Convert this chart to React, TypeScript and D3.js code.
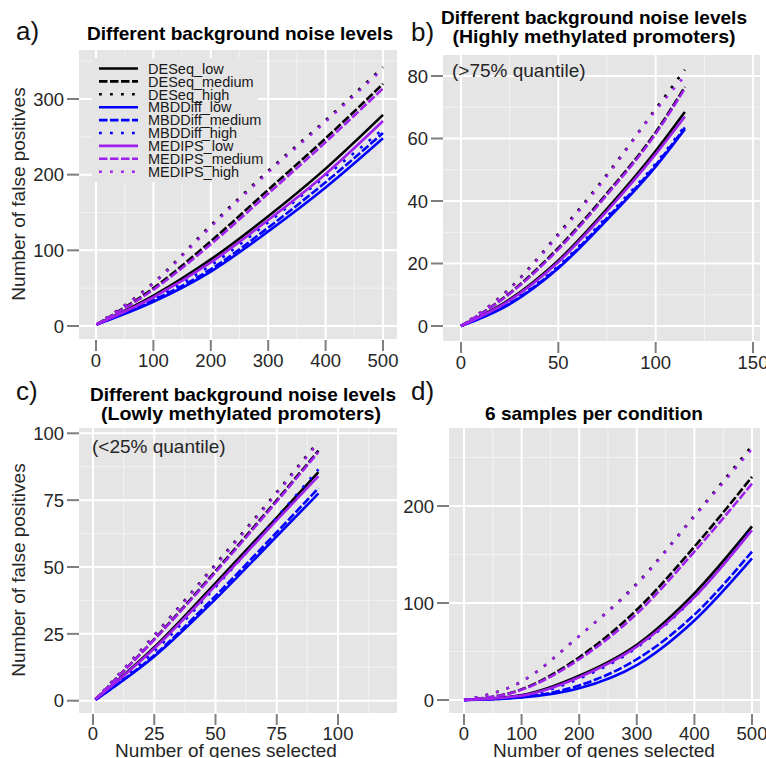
import React from "react";
import * as d3 from "d3";

// series order: [low, medium, high] for each method
const methods = ["DESeq", "MBDDiff", "MEDIPS"];
const levels = ["low", "medium", "high"];
const methodColors = ["#000000", "#0000ff", "#a020f0"];
const levelDash = [null, "8.5,2.5", "2.8,8.2"];

// a) different background noise levels
const aX = [1, 100, 200, 300, 400, 500];
const aDESeq = [
  [2, 40, 88, 145, 208, 279],
  [2, 50, 112, 180, 248, 320],
  [2, 57, 133, 205, 272, 342],
];
const aMBDDiff = [
  [2, 32, 72, 125, 183, 248],
  [2, 34, 75, 130, 190, 255],
  [2, 36, 80, 137, 198, 260],
];
const aMEDIPS = [
  [2, 38, 84, 140, 201, 271],
  [2, 48, 108, 175, 243, 314],
  [2, 56, 131, 203, 270, 340],
];

// b) highly methylated promoters
const bX = [0, 25, 50, 75, 100, 115];
const bDESeq = [
  [0, 8.5, 21, 37.5, 56, 68.5],
  [0, 10.5, 25, 42.5, 62, 76.5],
  [0, 12, 29.5, 48.5, 69.5, 82],
];
const bMBDDiff = [
  [0, 7, 18.5, 34, 51, 63],
  [0, 7.2, 18.8, 34.5, 51.5, 63.5],
  [0, 7.4, 19.2, 35, 52, 64],
];
const bMEDIPS = [
  [0, 8.2, 20.5, 36.8, 55, 67],
  [0, 10.3, 24.5, 42, 61.5, 76],
  [0, 11.8, 29, 48, 69, 80],
];

// c) lowly methylated promoters
const cX = [1, 25, 50, 75, 92];
const cDESeq = [
  [0.5, 20, 44, 68.5, 85.5],
  [0.5, 23, 48.5, 75, 93.5],
  [0.5, 24.5, 51, 78, 97],
];
const cMBDDiff = [
  [0.3, 16.5, 38, 61.5, 77.5],
  [0.3, 17, 39.2, 63, 79.5],
  [0.4, 18.5, 42.5, 68.5, 86.5],
];
const cMEDIPS = [
  [0.5, 19.5, 43, 67.5, 84],
  [0.5, 22.8, 48, 74.5, 93],
  [0.5, 24.3, 50.5, 77.5, 96.5],
];

// d) 6 samples per condition
const dX = [0, 100, 200, 300, 400, 500];
const dDESeq = [
  [0, 5, 25, 57, 110, 179],
  [0, 11, 44, 93, 158, 230],
  [0, 19, 66, 120, 190, 262],
];
const dMBDDiff = [
  [0, 2.5, 12, 36, 82, 146],
  [0, 3, 15, 42, 88, 153],
  [0, 4, 22, 54, 106, 177],
];
const dMEDIPS = [
  [0, 4.5, 23.5, 55, 106, 175],
  [0, 10.5, 42, 89, 153, 223],
  [0, 19, 66, 119, 189, 259],
];

const aXTicks = [0, 100, 200, 300, 400, 500];
const aYTicks = [0, 100, 200, 300];
const bXTicks = [0, 50, 100, 150];
const bYTicks = [0, 20, 40, 60, 80];
const cXTicks = [0, 25, 50, 75, 100];
const cYTicks = [0, 25, 50, 75, 100];
const dXTicks = [0, 100, 200, 300, 400, 500];
const dYTicks = [0, 100, 200];

const FONT = "'Liberation Sans', Arial, Helvetica, sans-serif";

type PanelProps = {
  rect: { x0: number; x1: number; y0: number; y1: number };
  x: d3.ScaleLinear<number, number>;
  y: d3.ScaleLinear<number, number>;
  xTicks: number[];
  yTicks: number[];
  xs: number[];
  series: number[][][];
  xLabelY: number;
};

function minorTicks(ticks: number[], scale: d3.ScaleLinear<number, number>, lo: number, hi: number) {
  const step = ticks[1] - ticks[0];
  const [a, b] = [scale.invert(lo), scale.invert(hi)].sort((p, q) => p - q);
  const out: number[] = [];
  for (let v = ticks[0] - step / 2; v <= b; v += step) {
    if (v >= a) out.push(v);
  }
  return out;
}

function Panel({ rect, x, y, xTicks, yTicks, xs, series, xLabelY }: PanelProps) {
  const xMinor = minorTicks(xTicks, x, rect.x0, rect.x1);
  const yMinor = minorTicks(yTicks, y, rect.y1, rect.y0);
  const line = d3
    .line<number>()
    .x((_, i) => x(xs[i]))
    .y((d) => y(d))
    .curve(d3.curveMonotoneX);

  return (
    <g>
      <rect x={rect.x0} y={rect.y0} width={rect.x1 - rect.x0} height={rect.y1 - rect.y0} fill="#e5e5e5" />
      {xMinor.map((v) => (
        <line key={"xm" + v} x1={x(v)} x2={x(v)} y1={rect.y0} y2={rect.y1} stroke="#f2f2f2" strokeWidth={1} />
      ))}
      {yMinor.map((v) => (
        <line key={"ym" + v} x1={rect.x0} x2={rect.x1} y1={y(v)} y2={y(v)} stroke="#f2f2f2" strokeWidth={1} />
      ))}
      {xTicks.map((v) => (
        <line key={"xg" + v} x1={x(v)} x2={x(v)} y1={rect.y0} y2={rect.y1} stroke="#ffffff" strokeWidth={2} />
      ))}
      {yTicks.map((v) => (
        <line key={"yg" + v} x1={rect.x0} x2={rect.x1} y1={y(v)} y2={y(v)} stroke="#ffffff" strokeWidth={2} />
      ))}
      {series.map((group, m) =>
        group.map((vals, l) => (
          <path
            key={methods[m] + levels[l]}
            d={line(vals) || ""}
            fill="none"
            stroke={methodColors[m]}
            strokeWidth={2.6}
            strokeDasharray={levelDash[l] || undefined}
          />
        ))
      )}
      {/* axes */}
      {yTicks.map((v) => (
        <g key={"yt" + v}>
          <line x1={rect.x0 - 12} x2={rect.x0} y1={y(v)} y2={y(v)} stroke="#7f7f7f" strokeWidth={2} />
          <text x={rect.x0 - 15} y={y(v)} dy="0.36em" textAnchor="end" fontSize={18.5} fill="#262626">
            {v}
          </text>
        </g>
      ))}
      {xTicks.map((v) => (
        <g key={"xt" + v}>
          <line x1={x(v)} x2={x(v)} y1={rect.y1 + 1} y2={rect.y1 + 12} stroke="#7f7f7f" strokeWidth={2} />
          <text x={x(v)} y={xLabelY} textAnchor="middle" fontSize={18.5} fill="#262626">
            {v}
          </text>
        </g>
      ))}
    </g>
  );
}

function Legend() {
  const top = 68.5;
  const step = 12.9;
  const rows = methods.flatMap((m, mi) => levels.map((l, li) => ({ name: `${m}_${l}`, mi, li })));
  return (
    <g>
      <rect x={92} y={58} width={166} height={124} fill="#e5e5e5" />
      {rows.map((r, i) => (
        <g key={r.name} transform={`translate(0,${top + i * step})`}>
          <line
            x1={99}
            x2={138}
            y1={0}
            y2={0}
            stroke={methodColors[r.mi]}
            strokeWidth={2.6}
            strokeDasharray={levelDash[r.li] || undefined}
          />
          <text x={148} y={0} dy="0.36em" fontSize={14.5} fill="#1a1a1a">
            {r.name}
          </text>
        </g>
      ))}
    </g>
  );
}

export default function App() {
  const ax = d3.scaleLinear().domain([0, 500]).range([96, 383]);
  const ay = d3.scaleLinear().domain([0, 300]).range([326, 99]);
  const bx = d3.scaleLinear().domain([0, 150]).range([461, 753]);
  const by = d3.scaleLinear().domain([0, 80]).range([326, 76]);
  const cx = d3.scaleLinear().domain([0, 100]).range([93, 338]);
  const cy = d3.scaleLinear().domain([0, 100]).range([700.7, 433.3]);
  const dx = d3.scaleLinear().domain([0, 500]).range([464, 752]);
  const dy = d3.scaleLinear().domain([0, 200]).range([700, 506]);

  const titleProps = {
    fontSize: 18.5,
    fontWeight: 700,
    textAnchor: "middle" as const,
    fill: "#000",
    lengthAdjust: "spacingAndGlyphs" as const,
  };
  const tagProps = { fontSize: 26, fill: "#111" };
  const axisTitle = { fontSize: 19, fill: "#262626", textAnchor: "middle" as const };

  return (
    <svg
      width={766}
      height={758}
      style={{ position: "absolute", left: 0, top: 0, background: "#ffffff" }}
      fontFamily={FONT}
    >
      <rect width={766} height={758} fill="#ffffff" />

      <Panel
        rect={{ x0: 79, x1: 397, y0: 50, y1: 339 }}
        x={ax}
        y={ay}
        xTicks={aXTicks}
        yTicks={aYTicks}
        xs={aX}
        series={[aDESeq, aMBDDiff, aMEDIPS]}
        xLabelY={367}
      />
      <Legend />
      <Panel
        rect={{ x0: 443, x1: 760, y0: 55, y1: 341 }}
        x={bx}
        y={by}
        xTicks={bXTicks}
        yTicks={bYTicks}
        xs={bX}
        series={[bDESeq, bMBDDiff, bMEDIPS]}
        xLabelY={369}
      />
      <Panel
        rect={{ x0: 79, x1: 397, y0: 428, y1: 713 }}
        x={cx}
        y={cy}
        xTicks={cXTicks}
        yTicks={cYTicks}
        xs={cX}
        series={[cDESeq, cMBDDiff, cMEDIPS]}
        xLabelY={740}
      />
      <Panel
        rect={{ x0: 449, x1: 760, y0: 428, y1: 713 }}
        x={dx}
        y={dy}
        xTicks={dXTicks}
        yTicks={dYTicks}
        xs={dX}
        series={[dDESeq, dMBDDiff, dMEDIPS]}
        xLabelY={740}
      />

      {/* titles */}
      <text x={240} y={40} textLength={306} {...titleProps}>Different background noise levels</text>
      <text x={594} y={24} textLength={306} {...titleProps}>Different background noise levels</text>
      <text x={594} y={43} textLength={283} {...titleProps}>(Highly methylated promoters)</text>
      <text x={243} y={401} textLength={306} {...titleProps}>Different background noise levels</text>
      <text x={241} y={420} textLength={280} {...titleProps}>(Lowly methylated promoters)</text>
      <text x={594} y={420} textLength={218} {...titleProps}>6 samples per condition</text>

      {/* panel tags */}
      <text x={16} y={40} {...tagProps}>a)</text>
      <text x={411} y={41} {...tagProps}>b)</text>
      <text x={16} y={400} {...tagProps}>c)</text>
      <text x={411} y={400} {...tagProps}>d)</text>

      {/* annotations */}
      <text x={452} y={77} fontSize={19} fill="#262626">(&gt;75% quantile)</text>
      <text x={92} y={453} fontSize={19} fill="#262626">(&lt;25% quantile)</text>

      {/* axis titles */}
      <text transform="translate(25,194) rotate(-90)" {...axisTitle}>Number of false positives</text>
      <text transform="translate(25,570) rotate(-90)" {...axisTitle}>Number of false positives</text>
      <text x={226} y={757} {...axisTitle}>Number of genes selected</text>
      <text x={604} y={757} {...axisTitle}>Number of genes selected</text>
    </svg>
  );
}
